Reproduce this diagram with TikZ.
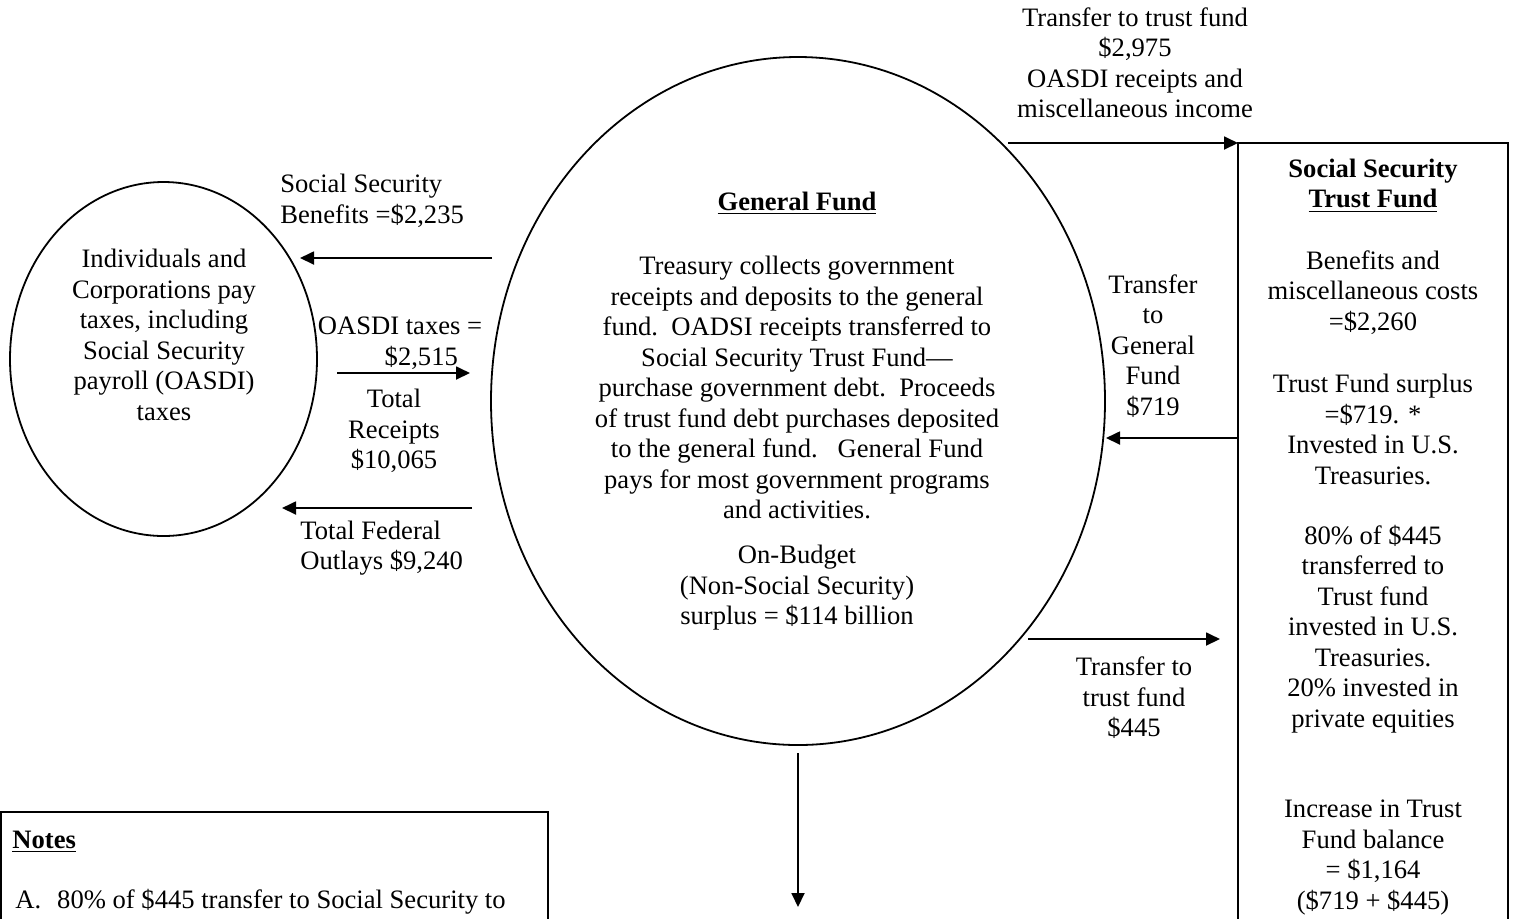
\documentclass[tikz,border=0pt]{standalone}
\usepackage{fontspec}
\setmainfont{Liberation Serif}
\usetikzlibrary{shapes.geometric,arrows.meta,positioning}

\tikzset{
  txt/.style={inner sep=0pt, align=center, font=\fontsize{13.3}{15.25}\selectfont},
  flow/.style={-{Triangle[length=7pt,width=6.5pt]}, line width=0.9pt},
  oval/.style={draw, ellipse, line width=0.9pt, inner sep=0pt},
  panel/.style={draw, line width=1.2pt}
}

\begin{document}
\begin{tikzpicture}[x=0.5pt, y=-0.5pt]
    \useasboundingbox (0,0) rectangle (1515,918);
    \clip (0,0) rectangle (1515,918);

    % The two funds and the tax payers
    \node[oval, minimum width=153.5pt, minimum height=177pt] (payers) at (163.5,359) {};
    \node[oval, minimum width=307pt, minimum height=344pt] (genfund) at (798,401) {};
    \draw[panel] (1238,143) rectangle (1508,940);
    \coordinate (trustnw) at (1238,143);
    \draw[panel] (1,812) rectangle (548,940);

    % Text inside the shapes
    \node[txt] (payerstxt) at (164,335) {Individuals and\\Corporations pay\\taxes, including\\Social Security\\payroll (OASDI)\\taxes};
    \node[txt, font=\fontsize{13.3}{15.25}\selectfont\bfseries] (gftitle) at (797,203) {\underline{General Fund}};
    \node[txt] (gftxt) at (797,387.5) {Treasury collects government\\receipts and deposits to the general\\fund.\ \ OADSI receipts transferred to\\Social Security Trust Fund---\\purchase government debt.\ \ Proceeds\\of trust fund debt purchases deposited\\to the general fund.\ \ \ General Fund\\pays for most government programs\\and activities.};
    \node[txt] (onbudget) at (797,588) {On-Budget\\(Non-Social Security)\\surplus = \$114 billion};

    \node[txt, font=\fontsize{13.3}{15.25}\selectfont\bfseries] (tftitle) at (1373,185.5) {Social Security\\\underline{Trust Fund}};
    \node[txt] (tfcosts) at (1373,292.5) {Benefits and\\miscellaneous costs\\=\$2,260};
    \node[txt] (tfsurplus) at (1373,429.5) {Trust Fund surplus\\=\$719. *\\Invested in U.S.\\Treasuries.};
    \node[txt] (tfsplit) at (1373,629) {80\% of \$445\\transferred to\\Trust fund\\invested in U.S.\\Treasuries.\\20\% invested in\\private equities};
    \node[txt] (tfincrease) at (1373,857.5) {Increase in Trust\\Fund balance\\= \$1,164\\(\$719 + \$445)};

    \node[txt, anchor=west, font=\fontsize{13.3}{15.25}\selectfont\bfseries] (notestitle) at (12,842) {\underline{Notes}};
    \node[txt, anchor=west] (noteA) at (15,902) {A.\hspace{8pt}80\% of \$445 transfer to Social Security to};

    % Connector end points
    \coordinate (benA) at (492,258);
    \coordinate (benB) at (300,258);
    \coordinate (taxA) at (337,373);
    \coordinate (taxB) at (470,373);
    \coordinate (outA) at (472,508);
    \coordinate (outB) at (282,508);
    \coordinate (topA) at (1008,143);
    \coordinate (backA) at (1238,438);
    \coordinate (backB) at (1106,438);
    \coordinate (smallA) at (1028,639);
    \coordinate (smallB) at (1220,639);
    \coordinate (downA) at (798,753);
    \coordinate (downB) at (798,907);

    % Flows
    \draw[flow] (benA) -- (benB);
    \draw[flow] (taxA) -- (taxB);
    \draw[flow] (outA) -- (outB);
    \draw[flow] (topA) -- (trustnw);
    \draw[flow] (backA) -- (backB);
    \draw[flow] (smallA) -- (smallB);
    \draw[flow] (downA) -- (downB);

    % Flow labels
    \node[txt] (toplbl) at (1135,63) {Transfer to trust fund\\\$2,975\\OASDI receipts and\\miscellaneous income};
    \node[txt, anchor=west, align=left] (benlbl) at (280,201) {Social Security\\Benefits =\$2,235};
    \node[txt] (taxlbl) at (400,343) {OASDI taxes =\\\hspace*{1.6em}\$2,515};
    \node[txt] (rcptlbl) at (394,431) {Total\\Receipts\\\$10,065};
    \node[txt, anchor=west, align=left] (outlbl) at (300,548) {Total Federal\\Outlays \$9,240};
    \node[txt] (backlbl) at (1153,346) {Transfer\\to\\General\\Fund\\\$719};
    \node[txt] (smalllbl) at (1134,698) {Transfer to\\trust fund\\\$445};
\end{tikzpicture}
\end{document}
